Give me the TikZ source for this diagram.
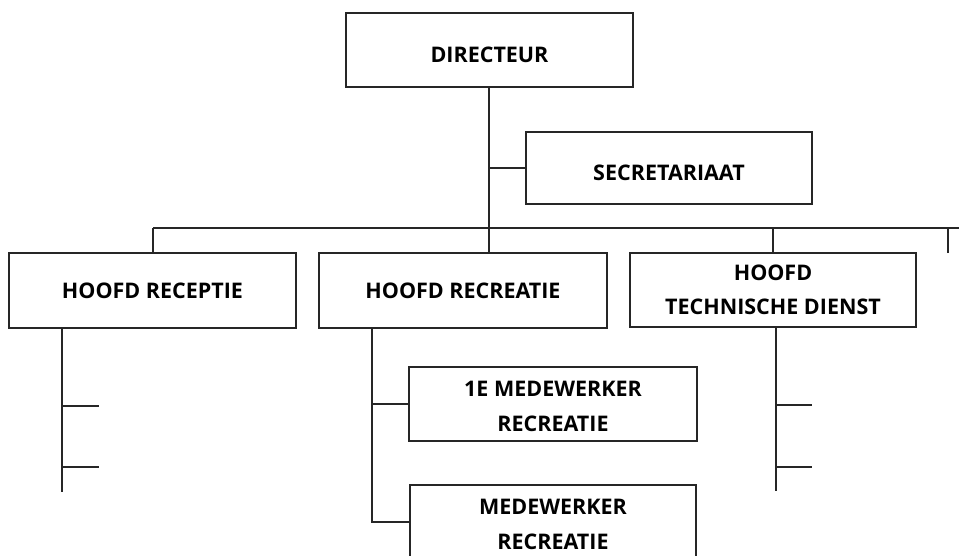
\documentclass[tikz,border=0pt]{standalone}
\usepackage{fontspec}
\setmainfont{Open Sans}
\newcommand{\lowr}[2]{\raisebox{-#1}[\height][\depth]{#2}}
\begin{document}
\begin{tikzpicture}[x=1pt,y=-1pt,
  box/.style={draw=black!85,line width=1.1pt,rectangle,inner sep=0pt,align=center,
    font=\fontsize{21.5}{34.5}\selectfont\bfseries},
  conn/.style={draw=black!85,line width=1.1pt}]
\useasboundingbox (0,0) rectangle (959,555);
\begin{scope}
\clip (0,0) rectangle (959,555);
\node[box,minimum width=287pt,minimum height=74pt] (dir) at (489.5,50) {\lowr{5pt}{DIRECTEUR}};
\node[box,minimum width=286pt,minimum height=72pt] (sec) at (669,168) {\lowr{5pt}{SECRETARIAAT}};
\node[box,minimum width=287pt,minimum height=75pt] (rec) at (152.5,290.5) {HOOFD RECEPTIE};
\node[box,minimum width=288pt,minimum height=75pt] (recr) at (463,290.5) {HOOFD RECREATIE};
\node[box,minimum width=286pt,minimum height=74pt] (tech) at (773,290) {HOOFD\\TECHNISCHE DIENST};
\node[box,minimum width=288pt,minimum height=74pt] (m1) at (553,404) {\lowr{3pt}{\begin{tabular}{@{}c@{}}1E MEDEWERKER\\[0.5pt]RECREATIE\end{tabular}}};
\node[box,minimum width=286pt,minimum height=74pt] (m2) at (553,522) {\lowr{3pt}{\begin{tabular}{@{}c@{}}MEDEWERKER\\[0.5pt]RECREATIE\end{tabular}}};

\coordinate (busL) at (153,228);
\coordinate (busR) at (962,228);
\coordinate (trunk) at (489,228);
\coordinate (tick) at (948,253);
\coordinate (rA) at (62,492);
\coordinate (rT1) at (99,406);
\coordinate (rT2) at (99,467);
\coordinate (cA) at (372,523);
\coordinate (tA) at (776,491);
\coordinate (tT1) at (812,405);
\coordinate (tT2) at (812,467);

% directeur trunk
\draw[conn] (dir.south -| trunk) -- (recr.north -| trunk);
\draw[conn] (sec.west) -- (sec.west -| trunk);
% bus
\draw[conn] (busL) -- (busR);
\draw[conn] (busL) -- (rec.north -| busL);
\draw[conn] (tech.north) -- (tech.north |- busL);
\draw[conn] (tick) -- (tick |- busL);
% receptie
\draw[conn] (rec.south -| rA) -- (rA);
\draw[conn] (rT1 -| rA) -- (rT1);
\draw[conn] (rT2 -| rA) -- (rT2);
% recreatie
\draw[conn] (recr.south -| cA) -- (cA);
\draw[conn] (m1.west -| cA) -- (m1.west);
\draw[conn] (m2.west -| cA) -- (m2.west);
% technische dienst
\draw[conn] (tech.south -| tA) -- (tA);
\draw[conn] (tT1 -| tA) -- (tT1);
\draw[conn] (tT2 -| tA) -- (tT2);
\end{scope}
\end{tikzpicture}
\end{document}
